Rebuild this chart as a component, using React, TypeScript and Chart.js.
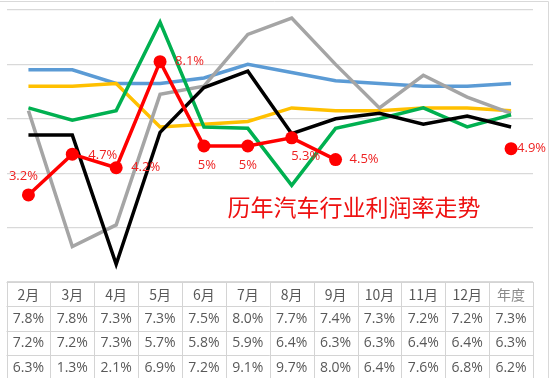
import React, { useEffect, useRef } from "react";
import { Chart, registerables } from "chart.js";

Chart.register(...registerables);

const categories = ["2月", "3月", "4月", "5月", "6月", "7月", "8月", "9月", "10月", "11月", "12月", "年度"];
const blueSeries = [7.8, 7.8, 7.3, 7.3, 7.5, 8.0, 7.7, 7.4, 7.3, 7.2, 7.2, 7.3];
const yellowSeries = [7.2, 7.2, 7.3, 5.7, 5.8, 5.9, 6.4, 6.3, 6.3, 6.4, 6.4, 6.3];
const graySeries = [6.3, 1.3, 2.1, 6.9, 7.2, 9.1, 9.7, 8.0, 6.4, 7.6, 6.8, 6.2];
const greenSeries = [6.4, 5.95, 6.3, 9.55, 5.7, 5.65, 3.55, 5.65, 6.0, 6.4, 5.7, 6.15];
const blackSeries = [5.4, 5.4, 0.65, 5.5, 7.15, 7.75, 5.45, 6.0, 6.2, 5.8, 6.1, 5.7];
const redSeries: (number | null)[] = [3.2, 4.7, 4.2, 8.1, 5, 5, 5.3, 4.5, null, null, null, 4.9];
const redLabels = ["3.2%", "4.7%", "4.2%", "8.1%", "5%", "5%", "5.3%", "4.5%", "", "", "", "4.9%"];
const tableRows = [blueSeries, yellowSeries, graySeries];
const titleText = "历年汽车行业利润率走势";

// label placement offsets (style only)
const labelOffsets: [number, number, CanvasTextAlign][] = [
  [-5, -19, "center"], [16, 1, "left"], [15, 0, "left"], [15, 0, "left"],
  [3, 19, "center"], [0, 19, "center"], [14, 18, "center"], [14, 0, "left"],
  [0, 0, "left"], [0, 0, "left"], [0, 0, "left"], [6, 0, "left"],
];

const fmt = (v: number) => v.toFixed(1) + "%";

const overlayPlugin = {
  id: "overlay",
  afterDatasetsDraw(chart: any) {
    const ctx = chart.ctx as CanvasRenderingContext2D;
    const meta = chart.getDatasetMeta(0);
    ctx.save();
    ctx.fillStyle = "#ee2222";
    ctx.font = "13px 'Open Sans', 'Noto Sans', sans-serif";
    ctx.textBaseline = "middle";
    meta.data.forEach((pt: any, i: number) => {
      if (redSeries[i] == null || !redLabels[i]) return;
      const [dx, dy, al] = labelOffsets[i];
      ctx.textAlign = al;
      ctx.fillText(redLabels[i], pt.x + dx, pt.y + dy);
    });
    // title
    const area = chart.chartArea;
    ctx.font = "23px 'Noto Sans CJK SC', sans-serif";
    ctx.fillStyle = "#ee1111";
    ctx.textAlign = "center";
    ctx.fillText(titleText, area.left + (area.right - area.left) * 0.66, chart.scales.y.getPixelForValue(2.75));
    ctx.restore();
  },
  afterDraw(chart: any) {
    const ctx = chart.ctx as CanvasRenderingContext2D;
    const area = chart.chartArea;
    const xs = chart.scales.x;
    const top = area.bottom;
    const rowH = 24.3;
    const colW = (area.right - area.left) / categories.length;
    ctx.save();
    // chart border
    ctx.strokeStyle = "#d9d9d9";
    ctx.lineWidth = 1;
    ctx.beginPath();
    ctx.moveTo(0, 1.5);
    ctx.lineTo(548.5, 1.5);
    ctx.lineTo(548.5, 378);
    ctx.stroke();
    // table grid
    ctx.strokeStyle = "#d4d4d4";
    ctx.beginPath();
    for (let r = 0; r <= 4; r++) {
      const y = Math.round(top + r * rowH) + 0.5;
      ctx.moveTo(area.left, y);
      ctx.lineTo(area.right, y);
    }
    for (let c = 0; c <= categories.length; c++) {
      const x = Math.round(area.left + c * colW) + 0.5;
      ctx.moveTo(x, top);
      ctx.lineTo(x, top + 4 * rowH + 10);
    }
    ctx.stroke();
    ctx.textAlign = "center";
    ctx.textBaseline = "middle";
    categories.forEach((cat, i) => {
      const x = xs.getPixelForValue(i);
      ctx.font = "14px 'Noto Sans CJK SC', sans-serif";
      ctx.fillStyle = i === categories.length - 1 ? "#8a8a8a" : "#595959";
      ctx.fillText(cat, x, top + rowH / 2 + 0.5);
      ctx.font = "14px 'Open Sans', 'Noto Sans', sans-serif";
      ctx.fillStyle = "#595959";
      tableRows.forEach((row, r) => {
        ctx.fillText(fmt(row[i]), x, top + rowH * (r + 1.5) + 0.5);
      });
    });
    ctx.restore();
  },
};

export default function App() {
  const ref = useRef<HTMLCanvasElement | null>(null);
  useEffect(() => {
    if (!ref.current) return;
    const mk = (data: (number | null)[], color: string) => ({
      data,
      borderColor: color,
      backgroundColor: color,
      borderWidth: 3.5,
      pointRadius: 0,
      tension: 0,
      spanGaps: false,
    });
    const chart = new Chart(ref.current, {
      type: "line",
      data: {
        labels: categories,
        datasets: [
          { ...mk(redSeries, "#ff0000"), pointRadius: 6.5, pointBackgroundColor: "#ff0000", pointBorderWidth: 0 },
          mk(blackSeries, "#000000"),
          mk(greenSeries, "#00b050"),
          mk(graySeries, "#a5a5a5"),
          mk(yellowSeries, "#ffc000"),
          mk(blueSeries, "#5b9bd5"),
        ],
      },
      options: {
        animation: false,
        responsive: false,
        layout: { padding: { left: 2, top: 10, right: 17, bottom: 96 } },
        plugins: { legend: { display: false }, tooltip: { enabled: false }, title: { display: false } },
        scales: {
          x: { display: false, offset: true },
          y: {
            min: 0,
            max: 10,
            ticks: { stepSize: 2, display: false },
            grid: { color: "#d9d9d9", drawTicks: false, lineWidth: 1.3 },
            border: { display: false },
          },
        },
      },
      plugins: [overlayPlugin],
    });
    return () => chart.destroy();
  }, []);
  return (
    <div style={{ position: "absolute", left: 0, top: 0, width: 550, height: 378, background: "#fff" }}>
      <canvas ref={ref} width={550} height={378} />
    </div>
  );
}
